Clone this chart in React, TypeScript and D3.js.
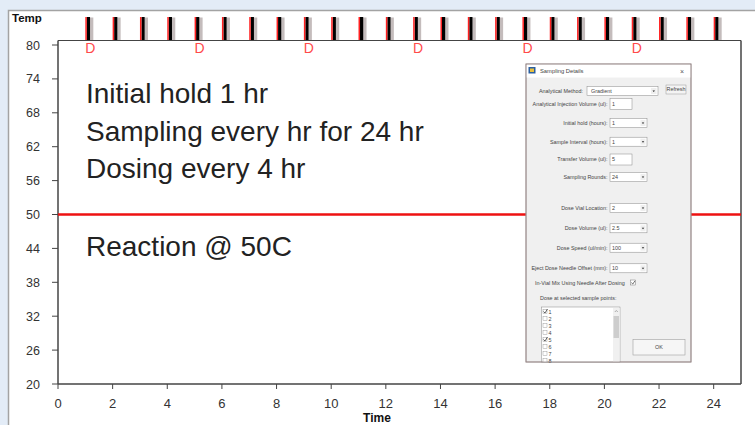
import React from "react";
import * as d3 from "d3";

const samplingTimes = [1, 2, 3, 4, 5, 6, 7, 8, 9, 10, 11, 12, 13, 14, 15, 16, 17, 18, 19, 20, 21, 22, 23, 24];
const doseTimes = [1, 5, 9, 13, 17, 21];
const reactionTemp = 50;
const yTicks = [20, 26, 32, 38, 44, 50, 56, 62, 68, 74, 80];
const xTicks = [0, 2, 4, 6, 8, 10, 12, 14, 16, 18, 20, 22, 24];
const notes = ["Initial hold 1 hr", "Sampling every hr for 24 hr", "Dosing every 4 hr"];
const reactionNote = "Reaction @ 50C";

const dialogRows = [
  { label: "Analytical Injection Volume (ul):", value: "1", kind: "text", y: 104 },
  { label: "Initial hold (hours):", value: "1", kind: "drop", y: 123 },
  { label: "Sample Interval (hours):", value: "1", kind: "drop", y: 141.7 },
  { label: "Transfer Volume (ul):", value: "5", kind: "text", y: 159.5 },
  { label: "Sampling Rounds:", value: "24", kind: "drop", y: 177 },
  { label: "Dose Vial Location:", value: "2", kind: "drop", y: 208 },
  { label: "Dose Volume (ul):", value: "2.5", kind: "drop", y: 228.3 },
  { label: "Dose Speed (ul/min):", value: "100", kind: "drop", y: 247.7 },
  { label: "Eject Dose Needle Offset (mm):", value: "10", kind: "drop", y: 268.3 },
];
const listItems = ["1", "2", "3", "4", "5", "6", "7", "8"];
const listChecked = ["1", "5"];

const FONT = "'Liberation Sans', Arial, sans-serif";

export default function App() {
  const W = 755, H = 425;
  const x = d3.scaleLinear().domain([0, 25]).range([58, 741]);
  const y = d3.scaleLinear().domain([20, 80]).range([384, 45]);
  const top = y(80.8);
  const axisColor = "#444";
  const textColor = "#333";

  const dx = 526, dy = 64, dw = 165, dh = 298;

  return (
    <svg width={W} height={H} style={{ position: "absolute", left: 0, top: 0 }} fontFamily={FONT}>
      <rect x={0} y={0} width={W} height={H} fill="#e3ecf7" />
      <rect x={8.5} y={10.5} width={W} height={H} fill="#fff" stroke="#a3a3a3" strokeWidth={1.5} />
      <text x={12} y={22} fontSize={11.5} fontWeight="bold" fill="#111">Temp</text>

      {/* sampling markers */}
      {samplingTimes.map((t) => (
        <g key={t}>
          <rect x={x(t) + 4.5} y={17.5} width={3.5} height={top - 17.5} fill="#c4bcbc" />
          <rect x={x(t) + 1.5} y={17} width={3.2} height={top - 17} fill="#000" />
          <rect x={x(t)} y={17} width={1.5} height={top - 17} fill="#ff2020" />
        </g>
      ))}
      {doseTimes.map((t) => (
        <text key={t} x={x(t) + 5} y={53} fontSize={14} fill="#ff4a4a" textAnchor="middle">D</text>
      ))}

      {/* frame */}
      <line x1={x(0)} x2={x(25)} y1={top} y2={top} stroke={axisColor} strokeWidth={1.2} />
      <line x1={x(25)} x2={x(25)} y1={top} y2={y(20)} stroke={axisColor} strokeWidth={1.5} />
      <line x1={x(0)} x2={x(0)} y1={top} y2={y(20)} stroke={axisColor} strokeWidth={1.5} />
      <line x1={x(0)} x2={x(25)} y1={y(20)} y2={y(20)} stroke={axisColor} strokeWidth={1.5} />

      {yTicks.map((v) => (
        <g key={v}>
          <line x1={x(0) - 6} x2={x(0)} y1={y(v)} y2={y(v)} stroke={axisColor} strokeWidth={1} />
          <text x={40} y={y(v) + 4.5} fontSize={12.5} fill={textColor} textAnchor="end">{v}</text>
        </g>
      ))}
      {xTicks.map((v) => (
        <g key={v}>
          <line x1={x(v)} x2={x(v)} y1={y(20)} y2={y(20) + 5} stroke={axisColor} strokeWidth={1} />
          <text x={x(v)} y={408} fontSize={13} fill={textColor} textAnchor="middle">{v}</text>
        </g>
      ))}
      <text x={377} y={422} fontSize={12} fontWeight="bold" fill="#111" textAnchor="middle">Time</text>

      {/* reaction temperature */}
      <line x1={x(0)} x2={x(25)} y1={y(reactionTemp)} y2={y(reactionTemp)} stroke="#ee1111" strokeWidth={2.5} />

      {notes.map((n, i) => (
        <text key={n} x={86} y={103.3 + i * 37.2} fontSize={28} fill="#222">{n}</text>
      ))}
      <text x={86} y={256} fontSize={28} fill="#222">{reactionNote}</text>

      {/* dialog inset */}
      <g fontSize={5.4} fill="#444">
        <rect x={dx} y={dy} width={dw} height={dh} fill="#f0f0f0" stroke="#9a8a8a" strokeWidth={0.8} />
        <rect x={dx + 0.5} y={dy + 0.5} width={dw - 1} height={13} fill="#fff" />
        <rect x={528.5} y={67} width={7} height={6.5} fill="#2a5fa0" />
        <rect x={530} y={68.5} width={4} height={3.5} fill="#e8c040" />
        <text x={540} y={73} fontSize={5.8} fill="#444">Sampling Details</text>
        <text x={682} y={73.5} fontSize={7} fill="#555" textAnchor="middle">×</text>

        <text x={583} y={92.5} textAnchor="end">Analytical Method:</text>
        <rect x={587} y={86.5} width={71} height={9} fill="#fff" stroke="#888" strokeWidth={0.5} />
        <text x={591} y={92.8}>Gradient</text>
        <rect x={651} y={88} width={5.5} height={6} fill="#eee" />
        <path d="M652.5,90.5 L655,90.5 L653.75,92 Z" fill="#222" />
        <rect x={666} y={85} width={20} height={9} fill="#f4f4f4" stroke="#999" strokeWidth={0.5} />
        <text x={676} y={91.3} textAnchor="middle">Refresh</text>

        {dialogRows.map((r) => (
          <g key={r.label}>
            <text x={607.5} y={r.y + 1.8} textAnchor="end">{r.label}</text>
            {r.kind === "text" ? (
              <rect x={610} y={r.y - 5.5} width={22} height={11} fill="#fff" stroke="#888" strokeWidth={0.5} />
            ) : (
              <rect x={610} y={r.y - 4.5} width={37} height={9} fill="#fff" stroke="#888" strokeWidth={0.5} />
            )}
            <text x={612} y={r.y + 1.8}>{r.value}</text>
            {r.kind === "drop" && (
              <g>
                <rect x={640.5} y={r.y - 3} width={5} height={6} fill="#eee" />
                <path d={`M641.8,${r.y - 0.5} L644.2,${r.y - 0.5} L643,${r.y + 1} Z`} fill="#222" />
              </g>
            )}
          </g>
        ))}

        <text x={535} y={285}>In-Vial Mix Using Needle After Dosing</text>
        <rect x={630.5} y={280} width={5} height={5} fill="#fff" stroke="#777" strokeWidth={0.5} />
        <path d="M631.3,282.6 L632.8,284 L635,280.8" fill="none" stroke="#333" strokeWidth={0.7} />
        <text x={540} y={300}>Dose at selected sample points:</text>

        <rect x={541.5} y={307} width={78.5} height={dy + dh - 307} fill="#fff" stroke="#888" strokeWidth={0.5} />
        <rect x={613} y={308} width={6.5} height={dy + dh - 308} fill="#f0f0f0" />
        <path d="M614.8,312 L616.3,310.5 L617.8,312" fill="none" stroke="#666" strokeWidth={0.5} />
        <rect x={613.5} y={316} width={5.5} height={22} fill="#cdcdcd" />
        {listItems.map((it, i) => {
          const yy = 312 + i * 7;
          if (yy > dy + dh + 2) return null;
          const checked = listChecked.includes(it);
          return (
            <g key={it}>
              <rect x={543} y={yy - 2.5} width={4} height={4} fill="#fff" stroke="#888" strokeWidth={0.4} />
              {checked && <path d={`M543.5,${yy - 0.5} L545,${yy + 1} L547.5,${yy - 3}`} fill="none" stroke="#222" strokeWidth={0.7} />}
              <text x={548.5} y={yy + 1.6}>{it}</text>
            </g>
          );
        })}
        <rect x={633} y={339.5} width={52} height={15.5} fill="#f6f6f6" stroke="#a0a0a0" strokeWidth={0.6} />
        <text x={659} y={349} textAnchor="middle">OK</text>
        <rect x={dx} y={dy} width={dw} height={dh} fill="none" stroke="#9a8a8a" strokeWidth={0.8} />
      </g>
    </svg>
  );
}
